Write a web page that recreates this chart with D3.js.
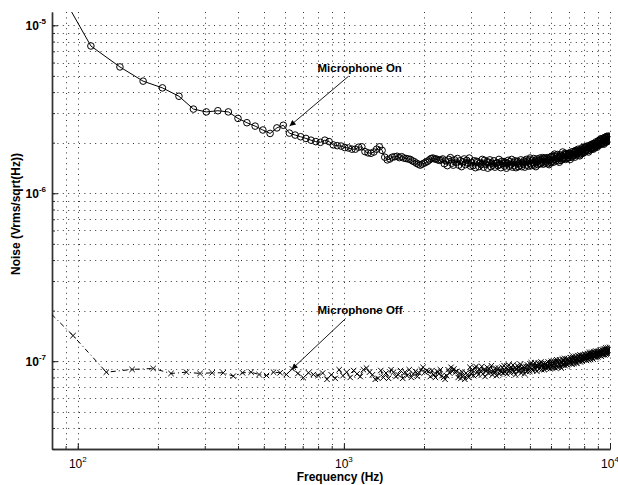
<!DOCTYPE html>
<html>
<head>
<meta charset="utf-8">
<script src="https://cdn.jsdelivr.net/npm/d3@7"></script>
<style>
  html, body { margin: 0; padding: 0; background: #fff; }
  svg { display: block; }
  text { font-family: "Liberation Sans", Arial, Helvetica, sans-serif; fill: #000; }
</style>
</head>
<body>
<svg id="chart" width="618" height="485"></svg>
<script>
'use strict';

// FFT bins: 32 Hz wide, first plotted bin is #2
const binWidth = 32;
const firstBin = 2;

// Microphone On, units of 1e-6 V/sqrt(Hz), bin centres offset by half a bin
const micOn = [
  19.3, 7.53, 5.65, 4.65, 4.24, 3.78, 3.17, 3.05, 3.10, 3.05,
  2.79, 2.63, 2.51, 2.38, 2.27, 2.45, 2.54, 2.28, 2.22, 2.17,
  2.12, 2.07, 2.03, 2.01, 2.07, 2.03, 1.94, 1.92, 1.91, 1.87,
  1.86, 1.83, 1.83, 1.88, 1.89, 1.77, 1.74, 1.73, 1.76, 1.83,
  1.89, 1.80, 1.64, 1.58, 1.60, 1.64, 1.65, 1.66, 1.63, 1.65,
  1.62, 1.61, 1.60, 1.59, 1.56, 1.54, 1.51, 1.49, 1.47, 1.49,
  1.51, 1.53, 1.55, 1.58, 1.61, 1.62, 1.60, 1.60, 1.58, 1.57,
  1.58,
  1.60, 1.50, 1.56, 1.46, 1.59, 1.63, 1.51, 1.47, 1.58, 1.53,
  1.61, 1.47, 1.56, 1.44, 1.54, 1.60, 1.48, 1.57, 1.51, 1.62, 1.45,
  1.52, 1.46, 1.56, 1.42, 1.55, 1.53, 1.44, 1.51, 1.48, 1.59,
  1.43, 1.57, 1.49, 1.54, 1.41, 1.53, 1.58, 1.44, 1.51, 1.47,
  1.56, 1.43, 1.50, 1.52, 1.46, 1.59, 1.48, 1.42, 1.55, 1.50,
  1.54, 1.45, 1.53, 1.41, 1.51, 1.57, 1.45, 1.54, 1.48, 1.59,
  1.43, 1.52, 1.46, 1.56, 1.42, 1.53, 1.55, 1.44, 1.51, 1.47,
  1.58, 1.44, 1.52, 1.49, 1.56, 1.43, 1.54,
  1.59, 1.47, 1.55, 1.45, 1.58, 1.62, 1.50, 1.46, 1.57, 1.52,
  1.61, 1.47, 1.56, 1.44, 1.54, 1.60, 1.48, 1.57, 1.51, 1.62,
  1.50, 1.59, 1.53, 1.63, 1.49, 1.60, 1.62, 1.51, 1.58, 1.54,
  1.63, 1.50, 1.59, 1.48, 1.57, 1.64, 1.52,
  1.66, 1.55, 1.64, 1.53, 1.67, 1.71, 1.59, 1.56, 1.66, 1.61,
  1.70, 1.56, 1.65, 1.53, 1.63, 1.69, 1.57, 1.66, 1.60,
  1.76, 1.60, 1.69, 1.63, 1.73, 1.59, 1.70, 1.72, 1.61, 1.68,
  1.64, 1.73, 1.63, 1.69, 1.59, 1.72, 1.76, 1.64, 1.71,
  1.67, 1.77, 1.69, 1.74, 1.64, 1.78, 1.80, 1.68, 1.72, 1.78,
  1.74, 1.83, 1.69, 1.79, 1.67, 1.77, 1.83, 1.72, 1.80, 1.76,
  1.87, 1.73, 1.82, 1.75, 1.86, 1.89, 1.77, 1.80, 1.88, 1.83,
  1.91, 1.79, 1.87, 1.76, 1.86, 1.92, 1.81, 1.90, 1.84, 1.95,
  1.83, 1.93, 1.87, 1.97, 1.83, 1.94, 1.97, 1.86, 1.92, 1.89,
  2.02, 1.90, 1.99, 1.88, 1.97, 2.04, 1.93,
  2.06, 1.95, 2.03, 1.94, 2.08, 2.11, 1.99, 1.97, 2.08, 2.02,
  2.12, 1.98, 2.07, 1.96, 2.06,
  2.15, 2.03, 2.11, 2.01, 2.14, 2.18, 2.06, 2.04, 2.14, 2.09,
  2.19, 2.05, 2.13, 2.07, 2.17
];

// Microphone Off, units of 1e-8 V/sqrt(Hz)
const micOff = [
  26.9, 14.2, 8.6, 8.93, 9.05, 8.45, 8.6, 8.45, 8.53, 8.53,
  8.15, 8.53, 8.6, 8.33, 8.22, 8.6, 8.53, 8.33, 9.0, 8.45,
  7.97, 8.53, 8.33, 8.22,
  8.5, 7.8, 8.3, 7.9,
  8.9, 8.2, 8.6, 8.0, 8.8, 8.4, 8.1,
  8.9, 9.1, 8.6,
  8.3, 7.8, 7.9,
  8.8, 8.0, 8.5, 7.9, 8.9, 8.6, 8.1, 8.3, 8.8, 7.9,
  8.6, 8.2, 8.9, 8.0, 8.4, 8.7, 8.1, 8.5,
  8.9, 9.2, 8.6, 8.8,
  8.7, 8.1, 8.8, 8.3, 8.0, 8.7, 8.4, 8.9, 8.2,
  8.0, 7.8, 8.2,
  8.9, 8.5, 9.2, 8.7, 9.0, 8.6,
  8.7, 8.0, 8.5, 7.9, 8.6, 8.2, 7.8, 8.5, 8.3, 8.0,
  9.2, 8.4, 8.9, 8.2, 9.1, 9.3, 8.6, 8.3, 9.0, 8.7,
  9.3, 8.4, 8.9, 8.1, 8.8, 9.2, 8.5, 9.0, 8.6, 9.4,
  8.3, 8.8, 8.5, 9.1, 8.2, 8.9, 9.1, 8.4, 8.8, 8.6,
  9.2, 8.5,
  9.4, 8.6, 9.1, 8.4, 9.3, 9.5, 8.8, 8.5, 9.2, 8.9,
  9.5, 8.6, 9.1, 8.3, 9.0, 9.4, 8.7, 9.2, 8.8, 9.6,
  8.5, 9.1, 8.7, 9.3, 8.4, 9.1, 9.3, 8.7,
  9.5, 8.8, 9.3, 8.7, 9.6, 9.8, 9.0, 8.8, 9.5, 9.2,
  9.8, 8.9, 9.4, 8.7, 9.3, 9.7, 9.0, 9.6, 9.1, 9.9,
  8.9, 9.4, 9.1, 9.7, 8.9, 9.5, 9.7, 9.1, 9.5, 9.2,
  9.9, 9.2, 9.7, 9.0, 9.8, 10.0, 9.3, 9.1, 9.7,
  10.0, 9.2, 9.7, 9.1, 10.0, 10.2, 9.4, 9.2, 9.9, 9.6,
  10.2, 9.3, 9.9, 9.1, 9.8, 10.3, 9.5, 10.1, 9.6, 10.4,
  9.4, 9.9, 9.6, 10.3, 9.5, 10.1, 10.3, 9.7, 10.1, 9.8,
  10.5, 9.7, 10.2, 9.6, 10.5, 10.7, 9.9, 9.7, 10.4, 10.1,
  10.7, 9.8, 10.4, 9.7, 10.3, 10.8, 10.0, 10.6, 10.1, 10.9,
  9.9, 10.5, 10.2, 10.8, 10.0, 10.6, 10.9, 10.2, 10.6, 10.3,
  11.0, 10.2, 10.8, 10.1, 10.7,
  11.1, 10.3, 10.8, 10.2, 11.1, 11.3, 10.5, 10.3, 11.0, 10.7,
  11.3, 10.4, 11.0, 10.3, 10.9, 11.4, 10.6, 11.2, 10.7, 11.5,
  10.5, 11.1, 10.8, 11.4, 10.6, 11.2, 11.5, 10.8, 11.2, 10.9,
  11.6, 10.8, 11.4, 10.7, 11.3, 11.7, 10.9, 11.5, 11.0,
  11.8, 11.0, 11.5, 10.9, 11.8, 12.0, 11.2, 11.0, 11.7, 11.4,
  12.0, 11.1, 11.7, 11.0, 11.6, 12.1, 11.4
];

const xMajor = [100, 1000, 10000];
const yMajor = [1e-7, 1e-6, 1e-5];

// annotation: label at (textF, textV), arrow from (fromF, fromV) to (toF, toV)
const notes = [
  { label: "Microphone On", textF: 796, textV: 5.26e-6, fromF: 1042, fromV: 4.98e-6, toF: 625, toV: 2.51e-6 },
  { label: "Microphone Off", textF: 796, textV: 1.92e-7, fromF: 1015, fromV: 1.795e-7, toF: 636, toV: 8.93e-8 }
];

const width = 618, height = 485;
const margin = { top: 12, right: 8, bottom: 36, left: 52 };

const svg = d3.select("#chart");

const x = d3.scaleLog().domain([80, 10000]).range([margin.left, width - margin.right]);
const y = d3.scaleLog().domain([3e-8, 1.2e-5]).range([height - margin.bottom, margin.top]);

svg.append("defs").append("clipPath").attr("id", "plot-clip")
  .append("rect")
  .attr("x", margin.left)
  .attr("y", margin.top)
  .attr("width", width - margin.left - margin.right)
  .attr("height", height - margin.top - margin.bottom);

svg.select("defs").append("marker")
  .attr("id", "arrow")
  .attr("viewBox", "0 0 10 10")
  .attr("refX", 10)
  .attr("refY", 5)
  .attr("markerWidth", 9)
  .attr("markerHeight", 6)
  .attr("markerUnits", "userSpaceOnUse")
  .attr("orient", "auto")
  .append("path")
  .attr("d", "M0,0L10,5L0,10Z")
  .attr("fill", "#000");

// Dotted grid, every log tick
const grid = svg.append("g")
  .attr("stroke", "#333")
  .attr("stroke-width", 1)
  .attr("stroke-dasharray", "1,4.4");

grid.selectAll(".gx")
  .data(x.ticks().filter(d => d > 80))
  .join("line")
  .attr("class", "gx")
  .attr("x1", d => Math.round(x(d)) + 0.5)
  .attr("x2", d => Math.round(x(d)) + 0.5)
  .attr("y1", margin.top)
  .attr("y2", height - margin.bottom);

grid.selectAll(".gy")
  .data(y.ticks().filter(d => d > 3e-8))
  .join("line")
  .attr("class", "gy")
  .attr("y1", d => Math.round(y(d)) + 0.5)
  .attr("y2", d => Math.round(y(d)) + 0.5)
  .attr("x1", margin.left)
  .attr("x2", width - margin.right);

// Axes with inward ticks
const xMinorAxis = svg.append("g")
  .attr("transform", `translate(0,${height - margin.bottom})`)
  .call(d3.axisBottom(x).tickValues(x.ticks()).tickSize(-3).tickSizeOuter(0).tickFormat(""));
const xMajorAxis = svg.append("g")
  .attr("transform", `translate(0,${height - margin.bottom})`)
  .call(d3.axisBottom(x).tickValues(xMajor).tickSize(-6).tickSizeOuter(0).tickFormat(""));
const yMinorAxis = svg.append("g")
  .attr("transform", `translate(${margin.left},0)`)
  .call(d3.axisLeft(y).tickValues(y.ticks()).tickSize(-3).tickSizeOuter(0).tickFormat(""));
const yMajorAxis = svg.append("g")
  .attr("transform", `translate(${margin.left},0)`)
  .call(d3.axisLeft(y).tickValues(yMajor).tickSize(-6).tickSizeOuter(0).tickFormat(""));

for (const g of [xMinorAxis, xMajorAxis, yMinorAxis, yMajorAxis]) {
  g.select(".domain").attr("stroke", "#333").attr("stroke-width", 1.4);
  g.selectAll(".tick line").attr("stroke", "#222");
}

// Tick labels 10^n
svg.append("g").selectAll("text")
  .data(xMajor)
  .join("text")
  .attr("x", d => x(d))
  .attr("y", height - margin.bottom + 19)
  .attr("text-anchor", "middle")
  .attr("font-size", "12px")
  .each(function(d) {
    const t = d3.select(this);
    t.append("tspan").text("10");
    t.append("tspan").attr("dy", -6).attr("font-size", "8px").text(Math.round(Math.log10(d)));
  });

svg.append("g").selectAll("text")
  .data(yMajor)
  .join("text")
  .attr("x", margin.left - 6)
  .attr("y", d => y(d) + 4.5)
  .attr("text-anchor", "end")
  .attr("font-size", "12px")
  .attr("font-weight", "bold")
  .each(function(d) {
    const t = d3.select(this);
    t.append("tspan").text("10");
    t.append("tspan").attr("dy", -6).attr("font-size", "8px").text(Math.round(Math.log10(d)));
  });

// Axis titles
svg.append("text")
  .attr("x", 340)
  .attr("y", 481)
  .attr("text-anchor", "middle")
  .attr("font-size", "12px")
  .attr("font-weight", "bold")
  .text("Frequency (Hz)");

svg.append("text")
  .attr("transform", "translate(20,214) rotate(-90)")
  .attr("text-anchor", "middle")
  .attr("font-size", "12px")
  .attr("font-weight", "bold")
  .text("Noise (Vrms/sqrt(Hz))");

// Series
const onData = micOn.map((v, i) => [(firstBin + i) * binWidth + binWidth / 2, v * 1e-6]);
const offData = micOff.map((v, i) => [(firstBin + i) * binWidth, v * 1e-8]);

const line = d3.line().x(d => x(d[0])).y(d => y(d[1]));
const plot = svg.append("g").attr("clip-path", "url(#plot-clip)");

plot.append("path")
  .datum(onData)
  .attr("fill", "none")
  .attr("stroke", "#000")
  .attr("stroke-width", 1)
  .attr("d", line);

plot.append("g").selectAll("circle")
  .data(onData)
  .join("circle")
  .attr("cx", d => x(d[0]))
  .attr("cy", d => y(d[1]))
  .attr("r", 3.3)
  .attr("fill", "none")
  .attr("stroke", "#000")
  .attr("stroke-width", 1);

plot.append("path")
  .datum(offData)
  .attr("fill", "none")
  .attr("stroke", "#000")
  .attr("stroke-width", 1)
  .attr("stroke-dasharray", "5,3,1,3")
  .attr("d", line);

plot.append("g").selectAll("path")
  .data(offData)
  .join("path")
  .attr("transform", d => `translate(${x(d[0])},${y(d[1])})`)
  .attr("d", "M-2.7,-2.7L2.7,2.7M-2.7,2.7L2.7,-2.7")
  .attr("fill", "none")
  .attr("stroke", "#000")
  .attr("stroke-width", 1);

// Annotations
const noteG = svg.append("g");
noteG.selectAll("line")
  .data(notes)
  .join("line")
  .attr("x1", d => x(d.fromF))
  .attr("y1", d => y(d.fromV))
  .attr("x2", d => x(d.toF))
  .attr("y2", d => y(d.toV))
  .attr("stroke", "#000")
  .attr("stroke-width", 0.9)
  .attr("marker-end", "url(#arrow)");

noteG.selectAll("text")
  .data(notes)
  .join("text")
  .attr("x", d => x(d.textF))
  .attr("y", d => y(d.textV))
  .attr("font-size", "11.5px")
  .attr("font-weight", "bold")
  .text(d => d.label);
</script>
</body>
</html>
